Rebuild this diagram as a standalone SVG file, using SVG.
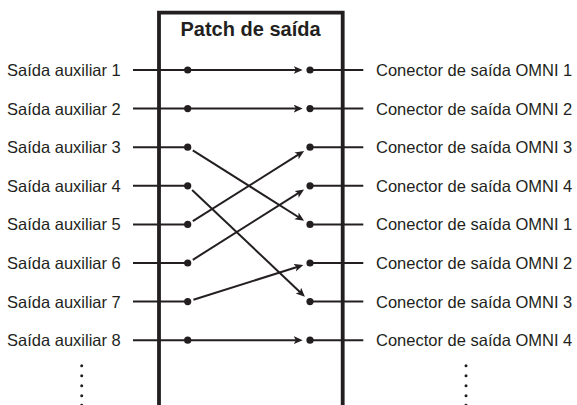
<svg xmlns="http://www.w3.org/2000/svg" width="577" height="405" viewBox="0 0 577 405">
<defs>
<style>
.lbl{font-family:"Liberation Sans",Arial,sans-serif;font-size:16.5px;fill:#231f20}
.ttl{font-family:"Liberation Sans",Arial,sans-serif;font-size:20px;font-weight:bold;fill:#231f20}
.wire{stroke:#231f20;stroke-width:2;fill:none}
.arr{stroke:#231f20;stroke-width:2;fill:none;marker-end:url(#ah)}
.dot{fill:#231f20}
.box{stroke:#231f20;stroke-width:3.8;fill:none}
</style>
<marker id="ah" markerUnits="userSpaceOnUse" markerWidth="11" markerHeight="9" refX="5" refY="4" orient="auto">
<path d="M0,0 L9,4 L0,8 L2.2,4 z" fill="#231f20"/>
</marker>
</defs>
<rect width="577" height="405" fill="#fff"/>
<g id="patch">
<path class="box" d="M159,405 V12.7 H342.7 V405"/>
<text class="ttl" x="250.5" y="36" text-anchor="middle">Patch de saída</text>
</g>
<g id="inputs">
<g id="in1"><text class="lbl" x="7" y="76">Saída auxiliar 1</text><line class="wire" x1="133" y1="70" x2="187.7" y2="70"/><circle class="dot" cx="187.7" cy="70" r="3.6"/></g>
<g id="in2"><text class="lbl" x="7" y="114.6">Saída auxiliar 2</text><line class="wire" x1="133" y1="108.6" x2="187.7" y2="108.6"/><circle class="dot" cx="187.7" cy="108.6" r="3.6"/></g>
<g id="in3"><text class="lbl" x="7" y="153.2">Saída auxiliar 3</text><line class="wire" x1="133" y1="147.2" x2="187.7" y2="147.2"/><circle class="dot" cx="187.7" cy="147.2" r="3.6"/></g>
<g id="in4"><text class="lbl" x="7" y="191.8">Saída auxiliar 4</text><line class="wire" x1="133" y1="185.8" x2="187.7" y2="185.8"/><circle class="dot" cx="187.7" cy="185.8" r="3.6"/></g>
<g id="in5"><text class="lbl" x="7" y="230.4">Saída auxiliar 5</text><line class="wire" x1="133" y1="224.4" x2="187.7" y2="224.4"/><circle class="dot" cx="187.7" cy="224.4" r="3.6"/></g>
<g id="in6"><text class="lbl" x="7" y="269">Saída auxiliar 6</text><line class="wire" x1="133" y1="263" x2="187.7" y2="263"/><circle class="dot" cx="187.7" cy="263" r="3.6"/></g>
<g id="in7"><text class="lbl" x="7" y="307.6">Saída auxiliar 7</text><line class="wire" x1="133" y1="301.6" x2="187.7" y2="301.6"/><circle class="dot" cx="187.7" cy="301.6" r="3.6"/></g>
<g id="in8"><text class="lbl" x="7" y="346.2">Saída auxiliar 8</text><line class="wire" x1="133" y1="340.2" x2="187.7" y2="340.2"/><circle class="dot" cx="187.7" cy="340.2" r="3.6"/></g>
<g id="in-more"><circle class="dot" cx="81.7" cy="365.7" r="1.5"/><circle class="dot" cx="81.7" cy="375.7" r="1.5"/><circle class="dot" cx="81.7" cy="385.7" r="1.5"/><circle class="dot" cx="81.7" cy="395.7" r="1.5"/><circle class="dot" cx="81.7" cy="405.3" r="1.5"/></g>
</g>
<g id="outputs">
<g id="out1"><circle class="dot" cx="310" cy="70" r="3.6"/><line class="wire" x1="310" y1="70" x2="363.3" y2="70"/><text class="lbl" x="376" y="76">Conector de saída OMNI 1</text></g>
<g id="out2"><circle class="dot" cx="310" cy="108.6" r="3.6"/><line class="wire" x1="310" y1="108.6" x2="363.3" y2="108.6"/><text class="lbl" x="376" y="114.6">Conector de saída OMNI 2</text></g>
<g id="out3"><circle class="dot" cx="310" cy="147.2" r="3.6"/><line class="wire" x1="310" y1="147.2" x2="363.3" y2="147.2"/><text class="lbl" x="376" y="153.2">Conector de saída OMNI 3</text></g>
<g id="out4"><circle class="dot" cx="310" cy="185.8" r="3.6"/><line class="wire" x1="310" y1="185.8" x2="363.3" y2="185.8"/><text class="lbl" x="376" y="191.8">Conector de saída OMNI 4</text></g>
<g id="out5"><circle class="dot" cx="310" cy="224.4" r="3.6"/><line class="wire" x1="310" y1="224.4" x2="363.3" y2="224.4"/><text class="lbl" x="376" y="230.4">Conector de saída OMNI 1</text></g>
<g id="out6"><circle class="dot" cx="310" cy="263" r="3.6"/><line class="wire" x1="310" y1="263" x2="363.3" y2="263"/><text class="lbl" x="376" y="269">Conector de saída OMNI 2</text></g>
<g id="out7"><circle class="dot" cx="310" cy="301.6" r="3.6"/><line class="wire" x1="310" y1="301.6" x2="363.3" y2="301.6"/><text class="lbl" x="376" y="307.6">Conector de saída OMNI 3</text></g>
<g id="out8"><circle class="dot" cx="310" cy="340.2" r="3.6"/><line class="wire" x1="310" y1="340.2" x2="363.3" y2="340.2"/><text class="lbl" x="376" y="346.2">Conector de saída OMNI 4</text></g>
<g id="out-more"><circle class="dot" cx="466" cy="365.7" r="1.5"/><circle class="dot" cx="466" cy="375.7" r="1.5"/><circle class="dot" cx="466" cy="385.7" r="1.5"/><circle class="dot" cx="466" cy="395.7" r="1.5"/><circle class="dot" cx="466" cy="405.3" r="1.5"/></g>
</g>
<g id="connectors">
<line class="arr" x1="187.7" y1="70" x2="298.7" y2="70"/>
<line class="arr" x1="187.7" y1="108.6" x2="298.7" y2="108.6"/>
<line class="arr" x1="192.8" y1="150.4" x2="300.7" y2="218.5"/>
<line class="arr" x1="192.1" y1="189.9" x2="302.0" y2="294.0"/>
<line class="arr" x1="192.8" y1="221.2" x2="300.7" y2="153.1"/>
<line class="arr" x1="192.8" y1="259.8" x2="300.7" y2="191.7"/>
<line class="arr" x1="193.4" y1="299.8" x2="299.5" y2="266.3"/>
<line class="arr" x1="187.7" y1="340.2" x2="298.7" y2="340.2"/>
</g>
</svg>
